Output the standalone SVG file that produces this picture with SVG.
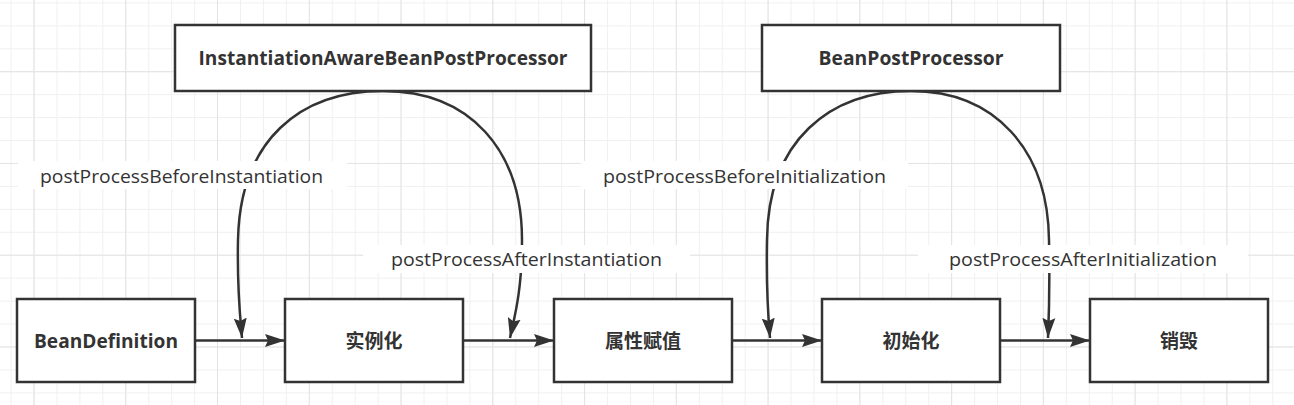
<svg xmlns="http://www.w3.org/2000/svg" width="1294" height="405" viewBox="0 0 1294 405">
<defs>
<pattern id="minor" patternUnits="userSpaceOnUse" x="10.6" y="2.4" width="22.94" height="22.94">
<path d="M 0.5 0 V 22.94 M 0 0.5 H 22.94" fill="none" stroke="#f0f0f0" stroke-width="1"/>
</pattern>
<pattern id="major" patternUnits="userSpaceOnUse" x="33.5" y="71.2" width="91.76" height="91.76">
<path d="M 0.5 0 V 91.76 M 0 0.5 H 91.76" fill="none" stroke="#e3e3e3" stroke-width="1"/>
</pattern>
<marker id="arrow" markerUnits="userSpaceOnUse" viewBox="0 0 20 14" refX="20" refY="7" markerWidth="20" markerHeight="14" orient="auto">
<path d="M0,0.5 L20,7 L0,13.5 L3,7 Z" fill="#333333"/>
</marker>
</defs>
<style>
.box{fill:#ffffff;stroke:#333333;stroke-width:2.5}
.bt{font-family:"Open Sans","Noto Sans CJK SC",sans-serif;font-weight:bold;font-size:19px;fill:#333333;text-anchor:middle;dominant-baseline:central}
.edge{fill:none;stroke:#333333;stroke-width:2.5}
.lbg{fill:#ffffff}
.lt{font-family:"Open Sans","Noto Sans CJK SC",sans-serif;font-size:19px;fill:#333333;text-anchor:middle;dominant-baseline:central}
</style>
<rect width="1294" height="405" fill="#ffffff"/>
<rect width="1294" height="405" fill="url(#minor)"/>
<rect width="1294" height="405" fill="url(#major)"/>

<g id="connectors">
<path class="edge" d="M 196 340.5 H 285" marker-end="url(#arrow)"/>
<path class="edge" d="M 463 340.5 H 554" marker-end="url(#arrow)"/>
<path class="edge" d="M 732 340.5 H 822" marker-end="url(#arrow)"/>
<path class="edge" d="M 1000 340.5 H 1090" marker-end="url(#arrow)"/>
<path class="edge" d="M 383 91 C 300 91 240 140 238 240 C 237 290 240 315 242 338" marker-end="url(#arrow)"/>
<path class="edge" d="M 383 91 C 470 91 522 150 522 240 C 522 290 515 315 510 338" marker-end="url(#arrow)"/>
<path class="edge" d="M 911 91 C 830 91 768 140 767 240 C 766 290 768 315 770 338" marker-end="url(#arrow)"/>
<path class="edge" d="M 911 91 C 995 91 1048 150 1049 240 C 1050 290 1049 315 1048 338" marker-end="url(#arrow)"/>
</g>

<g id="label-before-inst">
<rect class="lbg" x="18" y="161" width="329" height="28"/>
<text class="lt" x="181.5" y="176" textLength="283" lengthAdjust="spacingAndGlyphs">postProcessBeforeInstantiation</text>
</g>
<g id="label-after-inst">
<rect class="lbg" x="363" y="245" width="327" height="28"/>
<text class="lt" x="526.5" y="259" textLength="271" lengthAdjust="spacingAndGlyphs">postProcessAfterInstantiation</text>
</g>
<g id="label-before-init">
<rect class="lbg" x="581" y="161" width="327" height="28"/>
<text class="lt" x="744.5" y="176" textLength="283" lengthAdjust="spacingAndGlyphs">postProcessBeforeInitialization</text>
</g>
<g id="label-after-init">
<rect class="lbg" x="918" y="245" width="330" height="28"/>
<text class="lt" x="1083" y="259" textLength="268" lengthAdjust="spacingAndGlyphs">postProcessAfterInitialization</text>
</g>

<g id="iabpp">
<rect class="box" x="175" y="25" width="416" height="66"/>
<text class="bt" x="383" y="58" textLength="369" lengthAdjust="spacingAndGlyphs">InstantiationAwareBeanPostProcessor</text>
</g>
<g id="bpp">
<rect class="box" x="762" y="25" width="298" height="66"/>
<text class="bt" x="911" y="58" textLength="185" lengthAdjust="spacingAndGlyphs">BeanPostProcessor</text>
</g>
<g id="beandefinition">
<rect class="box" x="17" y="299" width="178" height="83"/>
<text class="bt" x="106" y="340.5" textLength="144" lengthAdjust="spacingAndGlyphs">BeanDefinition</text>
</g>
<g id="instantiate">
<rect class="box" x="285" y="299" width="178" height="83"/>
<text class="bt" x="374" y="340.5">实例化</text>
</g>
<g id="populate">
<rect class="box" x="554" y="299" width="178" height="83"/>
<text class="bt" x="643" y="340.5">属性赋值</text>
</g>
<g id="initialize">
<rect class="box" x="822" y="299" width="178" height="83"/>
<text class="bt" x="911" y="340.5">初始化</text>
</g>
<g id="destroy">
<rect class="box" x="1090" y="299" width="178" height="83"/>
<text class="bt" x="1179" y="340.5">销毁</text>
</g>
</svg>
